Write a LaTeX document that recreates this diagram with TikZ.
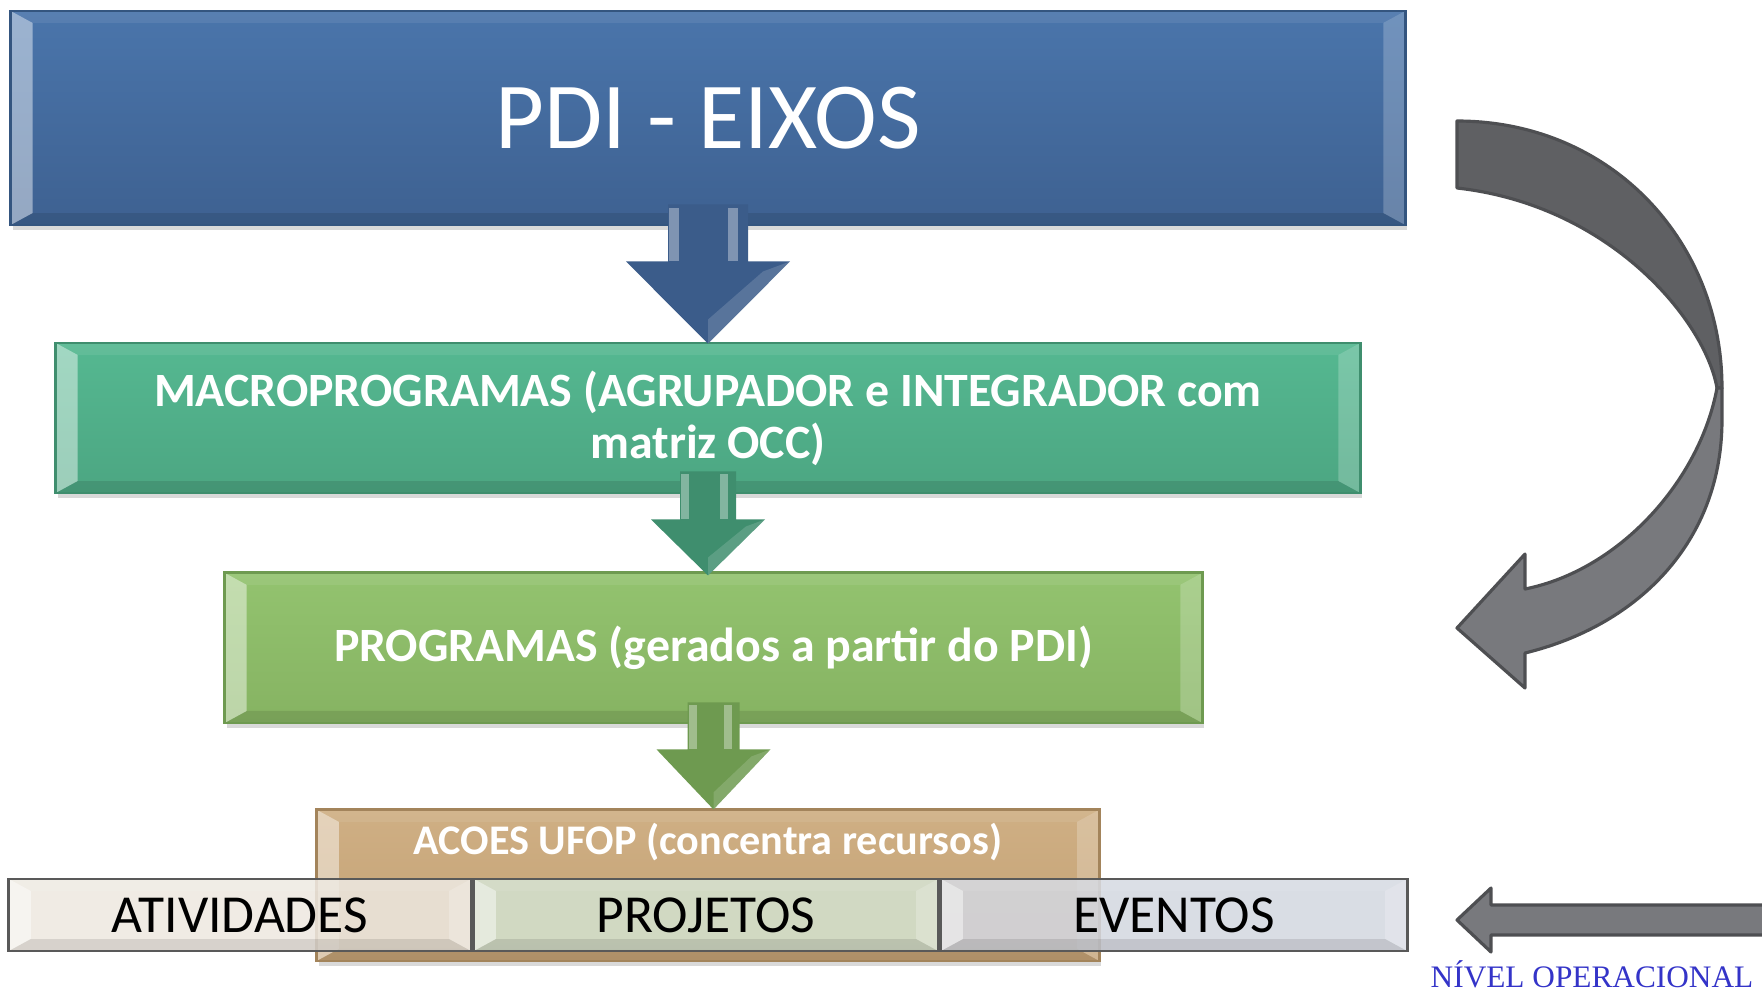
\documentclass[tikz,border=0pt]{standalone}
\usepackage{fontspec}
\setmainfont{Carlito}
\newfontfamily\timesfont{Liberation Serif}
\usetikzlibrary{positioning,calc,shadows}

\definecolor{eixostop}{HTML}{4A75AB}
\definecolor{eixosbot}{HTML}{3E6191}
\definecolor{eixosline}{HTML}{34557F}
\definecolor{macrotop}{HTML}{55B891}
\definecolor{macrobot}{HTML}{4CA682}
\definecolor{macroline}{HTML}{3F8E6E}
\definecolor{progtop}{HTML}{93C36F}
\definecolor{progbot}{HTML}{86B362}
\definecolor{progline}{HTML}{6E9A50}
\definecolor{acoestop}{HTML}{CFAF84}
\definecolor{acoesbot}{HTML}{C3A174}
\definecolor{acoesline}{HTML}{A3845B}
\definecolor{ativfill}{HTML}{EDE8E0}
\definecolor{projfill}{HTML}{D3E2CF}
\definecolor{evenfill}{HTML}{D3D7E0}
\definecolor{greydark}{HTML}{5F6063}
\definecolor{greylight}{HTML}{78797D}
\definecolor{greyline}{HTML}{4E4F52}
\definecolor{nivelblue}{HTML}{3434C8}

\begin{document}
\begin{tikzpicture} [x=0.01cm, y=0.01cm,
	bevel/.style={path picture={
		\coordinate (nw) at (path picture bounding box.north west);
		\coordinate (ne) at (path picture bounding box.north east);
		\coordinate (sw) at (path picture bounding box.south west);
		\coordinate (se) at (path picture bounding box.south east);
		\fill[white, opacity=0.45] (nw) -- ++(0.22cm,-0.12cm) -- ($(sw)+(0.22cm,0.12cm)$) -- (sw) -- cycle;
		\fill[white, opacity=0.22] (ne) -- ++(-0.22cm,-0.12cm) -- ($(se)+(-0.22cm,0.12cm)$) -- (se) -- cycle;
		\fill[white, opacity=0.08] (nw) -- ++(0.22cm,-0.12cm) -- ($(ne)+(-0.22cm,-0.12cm)$) -- (ne) -- cycle;
		\fill[black, opacity=0.1] (sw) -- ++(0.22cm,0.12cm) -- ($(se)+(-0.22cm,0.12cm)$) -- (se) -- cycle;}},
	box/.style={rectangle, draw, line width=0.8pt, text=white, align=center, inner sep=0pt, bevel, drop shadow={opacity=0.3, shadow xshift=0.02cm, shadow yshift=-0.05cm}},
	levelbox/.style={rectangle, draw=gray!70!black, line width=0.8pt, fill opacity=0.86, text opacity=1, text=black, inner sep=0pt, bevel, minimum height=0.72cm, font=\fontsize{15.2pt}{18pt}\selectfont},
	shaftlight/.style={fill=white, opacity=0.35},
	greyarrow/.style={draw=greyline, line width=0.9pt, line join=round}]
\useasboundingbox (0,0) rectangle (1762,-990);

	\node [box, top color=eixostop, bottom color=eixosbot, draw=eixosline, minimum width=13.94cm, minimum height=2.14cm, font=\fontsize{26.9pt}{32pt}\selectfont] (eixos) at (708,-118) {PDI - EIXOS};
	\node [box, below=1.15cm of eixos, top color=macrotop, bottom color=macrobot, draw=macroline, minimum width=13.04cm, minimum height=1.5cm, font=\bfseries\fontsize{13.6pt}{14.8pt}\selectfont] (macro) {MACROPROGRAMAS (AGRUPADOR e INTEGRADOR com\\ matriz OCC)};
	\node [box, below=0.77cm of macro, xshift=0.055cm, top color=progtop, bottom color=progbot, draw=progline, minimum width=9.77cm, minimum height=1.5cm, font=\bfseries\fontsize{13.6pt}{14.8pt}\selectfont] (programas) {PROGRAMAS (gerados a partir do PDI)};
	\node [box, below=0.84cm of programas, xshift=-0.055cm, top color=acoestop, bottom color=acoesbot, draw=acoesline, minimum width=7.82cm, minimum height=1.51cm] (acoes) {};
	\node [text=white, font=\bfseries\fontsize{12pt}{14pt}\selectfont] (acoestext) at (708,-842) {ACOES UFOP (concentra recursos)};

	% operational level
	\node [levelbox, fill=projfill, minimum width=4.64cm] (projetos) at (706,-915) {PROJETOS};
	\node [levelbox, fill=ativfill, minimum width=4.62cm, left=0pt of projetos] (atividades) {ATIVIDADES};
	\node [levelbox, fill=evenfill, minimum width=4.66cm, right=0pt of projetos] (eventos) {EVENTOS};

	% block arrows
	\fill[eixosbot!95!black] ($(eixos.south)+(-40,22)$) -- ($(eixos.south)+(-40,-35)$) -- ($(eixos.south)+(-82,-35)$) -- ($(eixos.south |- macro.north)+(0,-2)$) -- ($(eixos.south)+(82,-35)$) -- ($(eixos.south)+(40,-35)$) -- ($(eixos.south)+(40,22)$) -- cycle;
	\fill[shaftlight] ($(eixos.south)+(-39,18)$) rectangle ($(eixos.south)+(-29,-35)$);
	\fill[shaftlight] ($(eixos.south)+(20,18)$) rectangle ($(eixos.south)+(30,-35)$);
	\fill[white, opacity=0.15] ($(eixos.south)+(82,-35)$) -- ($(eixos.south |- macro.north)+(0,-2)$) -- ($(eixos.south |- macro.north)+(0,22)$) -- ($(eixos.south)+(55,-45)$) -- cycle;

	\fill[macroline] ($(macro.south)+(-28,23)$) -- ($(macro.south)+(-28,-25)$) -- ($(macro.south)+(-57,-25)$) -- ($(macro.south |- programas.north)+(0,-4)$) -- ($(macro.south)+(57,-25)$) -- ($(macro.south)+(28,-25)$) -- ($(macro.south)+(28,23)$) -- cycle;
	\fill[shaftlight] ($(macro.south)+(-27,20)$) rectangle ($(macro.south)+(-19,-25)$);
	\fill[shaftlight] ($(macro.south)+(12,20)$) rectangle ($(macro.south)+(20,-25)$);
	\fill[white, opacity=0.15] ($(macro.south)+(57,-25)$) -- ($(macro.south |- programas.north)+(0,-4)$) -- ($(macro.south |- programas.north)+(0,14)$) -- ($(macro.south)+(38,-32)$) -- cycle;

	\fill[progline] ($(programas.south)+(-26,22)$) -- ($(programas.south)+(-26,-25)$) -- ($(programas.south)+(-57,-25)$) -- ($(programas.south |- acoes.north)+(0,-1)$) -- ($(programas.south)+(57,-25)$) -- ($(programas.south)+(26,-25)$) -- ($(programas.south)+(26,22)$) -- cycle;
	\fill[shaftlight] ($(programas.south)+(-25,19)$) rectangle ($(programas.south)+(-17,-25)$);
	\fill[shaftlight] ($(programas.south)+(10,19)$) rectangle ($(programas.south)+(18,-25)$);
	\fill[white, opacity=0.15] ($(programas.south)+(57,-25)$) -- ($(programas.south |- acoes.north)+(0,-1)$) -- ($(programas.south |- acoes.north)+(0,16)$) -- ($(programas.south)+(38,-32)$) -- cycle;

	% curved arrow
	\filldraw[greyarrow, fill=greydark] (1457,-121) .. controls (1610,-121) and (1722,-240) .. (1722,-388) -- (1717,-388) .. controls (1705,-320) and (1610,-205) .. (1457,-188) -- cycle;
	\filldraw[greyarrow, fill=greylight] (1722,-388) -- (1722,-420) .. controls (1722,-540) and (1640,-625) .. (1525,-653) -- (1525,-688) -- (1457,-628) -- (1525,-554) -- (1525,-589) .. controls (1620,-570) and (1700,-480) .. (1717,-388) -- cycle;

	% level arrow
	\filldraw[greyarrow, fill=greylight] (1775,-905) -- (1491,-905) -- (1491,-888) -- (1457,-920) -- (1491,-952) -- (1491,-935) -- (1775,-935);
	\node [anchor=base, text=nivelblue, font=\timesfont\fontsize{8.9pt}{10pt}\selectfont, inner sep=0pt] (nivel) at (1592,-987) {NÍVEL OPERACIONAL};
\end{tikzpicture}
\end{document}
